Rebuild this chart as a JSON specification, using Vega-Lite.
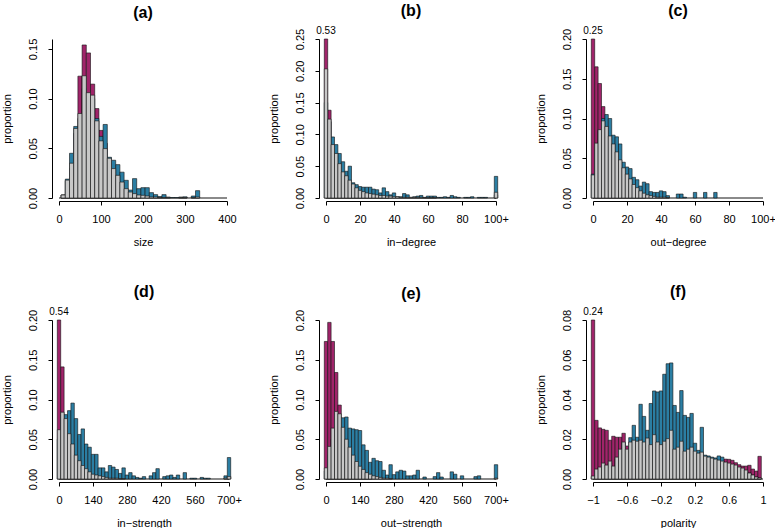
{
"$schema": "https://vega.github.io/schema/vega-lite/v6.json",
"padding": {"left": 1, "top": 3, "right": 0, "bottom": 0},
"background": "white",
"config": {
 "view": {"stroke": null},
 "font": "Liberation Sans",
 "axis": {"domainColor": "#000", "tickColor": "#000", "labelColor": "#000", "titleColor": "#000", "labelFontSize": 11, "titleFontSize": 11, "titleFontWeight": "normal", "grid": false, "tickSize": 4, "domainWidth": 1, "tickWidth": 1, "labelFlush": false, "labelOverlap": false},
 "axisX": {"offset": 3, "labelPadding": 8, "titlePadding": 12},
 "axisY": {"offset": 7, "labelAngle": 270, "labelAlign": "center", "labelBaseline": "bottom", "labelPadding": 10, "titlePadding": 15},
 "title": {"fontSize": 16, "fontWeight": "bold", "offset": 7, "frame": "group", "anchor": "middle", "color": "#000"}
},
"datasets": {
 "a": [
  {"x":10,"m":0.003,"b":0.003,"g":0.003},{"x":20,"m":0.017,"b":0.019,"g":0.018},{"x":30,"m":0.03,"b":0.045,"g":0.035},{"x":40,"m":0.065,"b":0.072,"g":0.07},
  {"x":50,"m":0.1226,"b":0.08,"g":0.085},{"x":60,"m":0.154,"b":0.11,"g":0.123},{"x":70,"m":0.146,"b":0.1,"g":0.106},{"x":80,"m":0.1146,"b":0.1,"g":0.1035},
  {"x":90,"m":0.09,"b":0.08,"g":0.0776},{"x":100,"m":0.068,"b":0.062,"g":0.0575},{"x":110,"m":0.055,"b":0.074,"g":0.0497},{"x":120,"m":0.03,"b":0.041,"g":0.04},
  {"x":130,"m":0.02,"b":0.038,"g":0.0296},{"x":140,"m":0.012,"b":0.0336,"g":0.0228},{"x":150,"m":0.008,"b":0.026,"g":0.016},{"x":160,"m":0.004,"b":0.0178,"g":0.0094},
  {"x":170,"m":0.002,"b":0.008,"g":0.006},{"x":180,"m":0.001,"b":0.0195,"g":0.0044},{"x":190,"m":0.001,"b":0.0094,"g":0.003},{"x":200,"m":0,"b":0.0104,"g":0.0027},
  {"x":210,"m":0,"b":0.0104,"g":0.002},{"x":220,"m":0,"b":0.0054,"g":0.001},{"x":230,"m":0,"b":0.0034,"g":0.001},{"x":240,"m":0,"b":0.0015,"g":0.0005},
  {"x":250,"m":0,"b":0.0034,"g":0.0005},{"x":260,"m":0,"b":0.001,"g":0.0005},{"x":270,"m":0,"b":0.0005,"g":0},{"x":280,"m":0,"b":0.0005,"g":0},
  {"x":290,"m":0,"b":0.001,"g":0.0005},{"x":300,"m":0,"b":0.0012,"g":0.0005},{"x":310,"m":0,"b":0,"g":0},{"x":320,"m":0,"b":0.002,"g":0.0005},
  {"x":330,"m":0,"b":0.0074,"g":0.001}
 ],
 "b": [
  {"x":0,"m":0.53,"b":0.15,"g":0.203},{"x":2,"m":0.138,"b":0.12,"g":0.124},{"x":4,"m":0.07,"b":0.096,"g":0.084},{"x":6,"m":0.05,"b":0.084,"g":0.07},
  {"x":8,"m":0.035,"b":0.07,"g":0.054},{"x":10,"m":0.025,"b":0.057,"g":0.041},{"x":12,"m":0.02,"b":0.042,"g":0.035},{"x":14,"m":0.015,"b":0.05,"g":0.028},
  {"x":16,"m":0.012,"b":0.024,"g":0.022},{"x":18,"m":0.009,"b":0.021,"g":0.016},{"x":20,"m":0.007,"b":0.018,"g":0.012},{"x":22,"m":0.005,"b":0.017,"g":0.01},
  {"x":24,"m":0.004,"b":0.017,"g":0.008},{"x":26,"m":0.003,"b":0.017,"g":0.007},{"x":28,"m":0.003,"b":0.014,"g":0.006},{"x":30,"m":0.002,"b":0.013,"g":0.005},
  {"x":32,"m":0.002,"b":0.008,"g":0.004},{"x":34,"m":0.001,"b":0.016,"g":0.004},{"x":36,"m":0.001,"b":0.01,"g":0.003},{"x":38,"m":0,"b":0.005,"g":0.003},
  {"x":40,"m":0,"b":0.008,"g":0.002},{"x":42,"m":0,"b":0.002,"g":0.002},{"x":44,"m":0,"b":0.002,"g":0.001},{"x":46,"m":0,"b":0.007,"g":0.001},
  {"x":48,"m":0,"b":0.005,"g":0.001},{"x":50,"m":0,"b":0.001,"g":0.001},{"x":52,"m":0,"b":0.002,"g":0.001},{"x":54,"m":0,"b":0.003,"g":0.001},
  {"x":56,"m":0,"b":0.004,"g":0.001},{"x":58,"m":0,"b":0.001,"g":0.0005},{"x":60,"m":0,"b":0.003,"g":0.0005},{"x":62,"m":0,"b":0.003,"g":0.0005},
  {"x":64,"m":0,"b":0.003,"g":0.0005},{"x":66,"m":0,"b":0.001,"g":0},{"x":68,"m":0,"b":0.001,"g":0},{"x":70,"m":0,"b":0.002,"g":0},
  {"x":72,"m":0,"b":0.001,"g":0},{"x":74,"m":0,"b":0.004,"g":0},{"x":76,"m":0,"b":0.002,"g":0},{"x":78,"m":0,"b":0.001,"g":0},
  {"x":80,"m":0,"b":0,"g":0},{"x":82,"m":0,"b":0.001,"g":0},{"x":84,"m":0,"b":0.001,"g":0},{"x":86,"m":0,"b":0.002,"g":0},
  {"x":88,"m":0,"b":0,"g":0},{"x":90,"m":0,"b":0.001,"g":0},{"x":92,"m":0,"b":0.001,"g":0},{"x":94,"m":0,"b":0.001,"g":0},
  {"x":96,"m":0,"b":0,"g":0},{"x":98,"m":0,"b":0,"g":0},{"x":100,"m":0.005,"b":0.034,"g":0.009}
 ],
 "c": [
  {"x":0,"m":0.25,"b":0.03,"g":0.029},{"x":2,"m":0.165,"b":0.06,"g":0.069},{"x":4,"m":0.144,"b":0.085,"g":0.086},{"x":6,"m":0.115,"b":0.1,"g":0.097},
  {"x":8,"m":0.09,"b":0.105,"g":0.09},{"x":10,"m":0.07,"b":0.1,"g":0.078},{"x":12,"m":0.05,"b":0.079,"g":0.068},{"x":14,"m":0.035,"b":0.077,"g":0.058},
  {"x":16,"m":0.025,"b":0.068,"g":0.048},{"x":18,"m":0.018,"b":0.045,"g":0.038},{"x":20,"m":0.012,"b":0.039,"g":0.03},{"x":22,"m":0.008,"b":0.037,"g":0.024},
  {"x":24,"m":0.005,"b":0.026,"g":0.017},{"x":26,"m":0.004,"b":0.023,"g":0.013},{"x":28,"m":0.002,"b":0.015,"g":0.009},{"x":30,"m":0.001,"b":0.02,"g":0.006},
  {"x":32,"m":0,"b":0.018,"g":0.004},{"x":34,"m":0,"b":0.008,"g":0.003},{"x":36,"m":0,"b":0.007,"g":0.002},{"x":38,"m":0,"b":0.007,"g":0.001},
  {"x":40,"m":0,"b":0.009,"g":0.001},{"x":42,"m":0,"b":0.008,"g":0.001},{"x":44,"m":0,"b":0.003,"g":0.0005},{"x":46,"m":0,"b":0,"g":0},
  {"x":48,"m":0,"b":0,"g":0},{"x":50,"m":0,"b":0.005,"g":0},{"x":52,"m":0,"b":0.005,"g":0},{"x":54,"m":0,"b":0.001,"g":0},
  {"x":56,"m":0,"b":0,"g":0},{"x":58,"m":0,"b":0,"g":0},{"x":60,"m":0,"b":0.007,"g":0},{"x":62,"m":0,"b":0,"g":0},
  {"x":64,"m":0,"b":0,"g":0},{"x":66,"m":0,"b":0.007,"g":0},{"x":68,"m":0,"b":0,"g":0},{"x":70,"m":0,"b":0,"g":0},
  {"x":72,"m":0,"b":0.007,"g":0}
 ],
 "d": [
  {"x":0,"m":0.54,"b":0.05,"g":0.062},{"x":14,"m":0.141,"b":0.08,"g":0.084},{"x":28,"m":0.07,"b":0.081,"g":0.076},{"x":42,"m":0.05,"b":0.086,"g":0.057},
  {"x":56,"m":0.035,"b":0.0955,"g":0.044},{"x":70,"m":0.025,"b":0.076,"g":0.03},{"x":84,"m":0.015,"b":0.056,"g":0.023},{"x":98,"m":0.01,"b":0.063,"g":0.017},
  {"x":112,"m":0.007,"b":0.044,"g":0.013},{"x":126,"m":0.005,"b":0.04,"g":0.009},{"x":140,"m":0.003,"b":0.031,"g":0.006},{"x":154,"m":0.002,"b":0.031,"g":0.005},
  {"x":168,"m":0,"b":0.014,"g":0.004},{"x":182,"m":0,"b":0.014,"g":0.003},{"x":196,"m":0,"b":0.009,"g":0.002},{"x":210,"m":0,"b":0.017,"g":0.001},
  {"x":224,"m":0,"b":0.015,"g":0.001},{"x":238,"m":0,"b":0.012,"g":0.001},{"x":252,"m":0,"b":0.007,"g":0.0005},{"x":266,"m":0,"b":0.014,"g":0.0005},
  {"x":280,"m":0,"b":0.005,"g":0},{"x":294,"m":0,"b":0.008,"g":0},{"x":308,"m":0,"b":0.004,"g":0},{"x":322,"m":0,"b":0.002,"g":0},
  {"x":336,"m":0,"b":0.001,"g":0},{"x":350,"m":0,"b":0.003,"g":0},{"x":364,"m":0,"b":0,"g":0},{"x":378,"m":0,"b":0.004,"g":0},
  {"x":392,"m":0,"b":0.008,"g":0},{"x":406,"m":0,"b":0.013,"g":0},{"x":420,"m":0,"b":0,"g":0},{"x":434,"m":0,"b":0.003,"g":0},
  {"x":448,"m":0,"b":0.004,"g":0},{"x":462,"m":0,"b":0.005,"g":0},{"x":476,"m":0,"b":0.002,"g":0},{"x":490,"m":0,"b":0.005,"g":0},
  {"x":504,"m":0,"b":0,"g":0},{"x":518,"m":0,"b":0.008,"g":0},{"x":532,"m":0,"b":0,"g":0},{"x":546,"m":0,"b":0.001,"g":0},
  {"x":560,"m":0,"b":0.001,"g":0},{"x":574,"m":0,"b":0,"g":0},{"x":588,"m":0,"b":0.002,"g":0},{"x":602,"m":0,"b":0.001,"g":0},
  {"x":616,"m":0,"b":0.001,"g":0},{"x":630,"m":0,"b":0,"g":0},{"x":644,"m":0,"b":0,"g":0},{"x":658,"m":0,"b":0,"g":0},
  {"x":672,"m":0,"b":0,"g":0},{"x":686,"m":0,"b":0.004,"g":0.001},{"x":700,"m":0.003,"b":0.027,"g":0.003}
 ],
 "e": [
  {"x":0,"m":0.173,"b":0.01,"g":0.014},{"x":14,"m":0.197,"b":0.03,"g":0.041},{"x":28,"m":0.173,"b":0.05,"g":0.064},{"x":42,"m":0.134,"b":0.075,"g":0.085},
  {"x":56,"m":0.093,"b":0.078,"g":0.082},{"x":70,"m":0.05,"b":0.077,"g":0.065},{"x":84,"m":0.035,"b":0.078,"g":0.05},{"x":98,"m":0.025,"b":0.064,"g":0.04},
  {"x":112,"m":0.018,"b":0.063,"g":0.03},{"x":126,"m":0.012,"b":0.062,"g":0.022},{"x":140,"m":0.008,"b":0.061,"g":0.016},{"x":154,"m":0.005,"b":0.043,"g":0.012},
  {"x":168,"m":0.003,"b":0.036,"g":0.008},{"x":182,"m":0.002,"b":0.021,"g":0.006},{"x":196,"m":0,"b":0.026,"g":0.004},{"x":210,"m":0,"b":0.023,"g":0.003},
  {"x":224,"m":0,"b":0.022,"g":0.002},{"x":238,"m":0,"b":0.011,"g":0.001},{"x":252,"m":0,"b":0.005,"g":0.001},{"x":266,"m":0,"b":0.018,"g":0.0005},
  {"x":280,"m":0,"b":0.0055,"g":0},{"x":294,"m":0,"b":0.009,"g":0},{"x":308,"m":0,"b":0.011,"g":0},{"x":322,"m":0,"b":0.01,"g":0},
  {"x":336,"m":0,"b":0.004,"g":0},{"x":350,"m":0,"b":0.004,"g":0},{"x":364,"m":0,"b":0.005,"g":0},{"x":378,"m":0,"b":0.011,"g":0},
  {"x":392,"m":0,"b":0,"g":0},{"x":406,"m":0,"b":0.0025,"g":0},{"x":420,"m":0,"b":0,"g":0},{"x":434,"m":0,"b":0,"g":0},
  {"x":448,"m":0,"b":0.003,"g":0},{"x":462,"m":0,"b":0.008,"g":0},{"x":476,"m":0,"b":0.0025,"g":0},{"x":490,"m":0,"b":0,"g":0},
  {"x":504,"m":0,"b":0,"g":0},{"x":518,"m":0,"b":0.009,"g":0},{"x":532,"m":0,"b":0.006,"g":0},{"x":546,"m":0,"b":0,"g":0},
  {"x":560,"m":0,"b":0.004,"g":0},{"x":574,"m":0,"b":0,"g":0},{"x":588,"m":0,"b":0,"g":0},{"x":602,"m":0,"b":0,"g":0},
  {"x":616,"m":0,"b":0.003,"g":0},{"x":630,"m":0,"b":0.004,"g":0},{"x":644,"m":0,"b":0,"g":0},{"x":658,"m":0,"b":0,"g":0},
  {"x":672,"m":0,"b":0,"g":0},{"x":686,"m":0,"b":0,"g":0},{"x":700,"m":0,"b":0.018,"g":0.001}
 ],
 "f": [
  {"x":-1,"m":0.24,"b":0.001,"g":0.0015},{"x":-0.96,"m":0.0295,"b":0.004,"g":0.005},{"x":-0.92,"m":0.0257,"b":0.005,"g":0.006},{"x":-0.88,"m":0.025,"b":0.007,"g":0.008},
  {"x":-0.84,"m":0.0245,"b":0.006,"g":0.007},{"x":-0.8,"m":0.0195,"b":0.008,"g":0.009},{"x":-0.76,"m":0.0215,"b":0.006,"g":0.0065},{"x":-0.72,"m":0.021,"b":0.01,"g":0.011},
  {"x":-0.68,"m":0.021,"b":0.014,"g":0.015},{"x":-0.64,"m":0.023,"b":0.018,"g":0.0186},{"x":-0.6,"m":0.0166,"b":0.014,"g":0.015},{"x":-0.56,"m":0.016,"b":0.0208,"g":0.0186},
  {"x":-0.52,"m":0.016,"b":0.027,"g":0.0195},{"x":-0.48,"m":0.016,"b":0.021,"g":0.019},{"x":-0.44,"m":0.016,"b":0.0376,"g":0.0195},{"x":-0.4,"m":0.016,"b":0.0315,"g":0.0186},
  {"x":-0.36,"m":0.016,"b":0.0245,"g":0.0206},{"x":-0.32,"m":0.015,"b":0.038,"g":0.0173},{"x":-0.28,"m":0.016,"b":0.0443,"g":0.0223},{"x":-0.24,"m":0.015,"b":0.0438,"g":0.0186},
  {"x":-0.2,"m":0.015,"b":0.0443,"g":0.0173},{"x":-0.16,"m":0.015,"b":0.0527,"g":0.019},{"x":-0.12,"m":0.015,"b":0.058,"g":0.0203},{"x":-0.08,"m":0.016,"b":0.0584,"g":0.0245},
  {"x":-0.04,"m":0.012,"b":0.037,"g":0.015},{"x":0,"m":0.012,"b":0.0335,"g":0.016},{"x":0.04,"m":0.012,"b":0.0445,"g":0.019},{"x":0.08,"m":0.011,"b":0.032,"g":0.014},
  {"x":0.12,"m":0.011,"b":0.031,"g":0.015},{"x":0.16,"m":0.011,"b":0.033,"g":0.016},{"x":0.2,"m":0.01,"b":0.018,"g":0.014},{"x":0.24,"m":0.01,"b":0.0144,"g":0.013},
  {"x":0.28,"m":0.01,"b":0.026,"g":0.0135},{"x":0.32,"m":0.009,"b":0.012,"g":0.0115},{"x":0.36,"m":0.009,"b":0.0116,"g":0.011},{"x":0.4,"m":0.009,"b":0.011,"g":0.0105},
  {"x":0.44,"m":0.009,"b":0.0106,"g":0.01},{"x":0.48,"m":0.009,"b":0.0116,"g":0.0095},{"x":0.52,"m":0.009,"b":0.011,"g":0.009},{"x":0.56,"m":0.01,"b":0.008,"g":0.0085},
  {"x":0.6,"m":0.0099,"b":0.007,"g":0.008},{"x":0.64,"m":0.0094,"b":0.007,"g":0.0075},{"x":0.68,"m":0.0082,"b":0.006,"g":0.007},{"x":0.72,"m":0.0072,"b":0.005,"g":0.006},
  {"x":0.76,"m":0.0065,"b":0.005,"g":0.0055},{"x":0.8,"m":0.0065,"b":0.004,"g":0.0045},{"x":0.84,"m":0.0069,"b":0.003,"g":0.003},{"x":0.88,"m":0.005,"b":0.002,"g":0.002},
  {"x":0.92,"m":0.004,"b":0.001,"g":0.001},{"x":0.96,"m":0.0114,"b":0.0005,"g":0.0005}
 ]
},
"columns": 3,
"bounds": "flush",
"spacing": {"column": 97, "row": 122},
"concat": [
 {"title": {"text": "(a)", "offset": 17}, "width": 168, "height": 159, "data": {"name": "a"},
  "layer": [
   {"mark": {"type": "rule", "color": "#8a8a8a", "strokeWidth": 1.5}, "encoding": {"y": {"datum": 0, "type": "quantitative"}}},
   {"transform": [{"filter": "datum.m > 0"}], "mark": {"type": "bar", "orient": "vertical", "size": 4.2, "fill": "#a0246a", "stroke": "#111", "strokeWidth": 0.6},
    "encoding": {"x": {"field": "x", "type": "quantitative", "title": "size", "scale": {"domain": [0, 400], "nice": false, "zero": false, "padding": 0}, "axis": {"values": [0, 100, 200, 300, 400], "tickCount": 20, "labelOverlap": false}},
                 "y": {"field": "m", "type": "quantitative", "title": "proportion", "scale": {"domain": [0, 0.16], "nice": false, "clamp": true}, "axis": {"values": [0, 0.05, 0.1, 0.15], "tickCount": 20, "format": ".2f", "labelOverlap": false}}}},
   {"transform": [{"filter": "datum.b > 0"}], "mark": {"type": "bar", "orient": "vertical", "size": 4.2, "fill": "#2b7ea3", "stroke": "#111", "strokeWidth": 0.6},
    "encoding": {"x": {"field": "x", "type": "quantitative", "title": "size"}, "y": {"field": "b", "type": "quantitative", "title": "proportion"}}},
   {"transform": [{"filter": "datum.g > 0"}], "mark": {"type": "bar", "orient": "vertical", "size": 4.2, "fill": "#c8c8c8", "stroke": "#111", "strokeWidth": 0.6},
    "encoding": {"x": {"field": "x", "type": "quantitative", "title": "size"}, "y": {"field": "g", "type": "quantitative", "title": "proportion"}}}
  ]},
 {"title": "(b)", "width": 170, "height": 159, "data": {"name": "b"},
  "layer": [
   {"mark": {"type": "rule", "color": "#8a8a8a", "strokeWidth": 1.5}, "encoding": {"y": {"datum": 0, "type": "quantitative"}}},
   {"transform": [{"filter": "datum.m > 0"}], "mark": {"type": "bar", "orient": "vertical", "size": 3.4, "fill": "#a0246a", "stroke": "#111", "strokeWidth": 0.6},
    "encoding": {"x": {"field": "x", "type": "quantitative", "title": "in\u2212degree", "scale": {"domain": [0, 100], "nice": false, "zero": false, "padding": 0}, "axis": {"values": [0, 20, 40, 60, 80, 100], "tickCount": 20, "labelOverlap": false, "labelExpr": "datum.value == 100 ? '100+' : datum.label"}},
                 "y": {"field": "m", "type": "quantitative", "title": "proportion", "scale": {"domain": [0, 0.25], "nice": false, "clamp": true}, "axis": {"values": [0, 0.05, 0.1, 0.15, 0.2, 0.25], "tickCount": 20, "format": ".2f", "labelOverlap": false}}}},
   {"transform": [{"filter": "datum.b > 0"}], "mark": {"type": "bar", "orient": "vertical", "size": 3.4, "fill": "#2b7ea3", "stroke": "#111", "strokeWidth": 0.6},
    "encoding": {"x": {"field": "x", "type": "quantitative", "title": "in\u2212degree"}, "y": {"field": "b", "type": "quantitative", "title": "proportion"}}},
   {"transform": [{"filter": "datum.g > 0"}], "mark": {"type": "bar", "orient": "vertical", "size": 3.4, "fill": "#c8c8c8", "stroke": "#111", "strokeWidth": 0.6},
    "encoding": {"x": {"field": "x", "type": "quantitative", "title": "in\u2212degree"}, "y": {"field": "g", "type": "quantitative", "title": "proportion"}}},
   {"transform": [{"filter": "datum.m > 0.25"}], "mark": {"type": "text", "baseline": "bottom", "dy": -3, "fontSize": 10, "color": "#000"},
    "encoding": {"x": {"field": "x", "type": "quantitative"}, "y": {"datum": 0.25, "type": "quantitative"}, "text": {"field": "m", "format": ".2f"}}}
  ]},
 {"title": "(c)", "width": 170, "height": 159, "data": {"name": "c"},
  "layer": [
   {"mark": {"type": "rule", "color": "#8a8a8a", "strokeWidth": 1.5}, "encoding": {"y": {"datum": 0, "type": "quantitative"}}},
   {"transform": [{"filter": "datum.m > 0"}], "mark": {"type": "bar", "orient": "vertical", "size": 3.4, "fill": "#a0246a", "stroke": "#111", "strokeWidth": 0.6},
    "encoding": {"x": {"field": "x", "type": "quantitative", "title": "out\u2212degree", "scale": {"domain": [0, 100], "nice": false, "zero": false, "padding": 0}, "axis": {"values": [0, 20, 40, 60, 80, 100], "tickCount": 20, "labelOverlap": false, "labelExpr": "datum.value == 100 ? '100+' : datum.label"}},
                 "y": {"field": "m", "type": "quantitative", "title": "proportion", "scale": {"domain": [0, 0.2], "nice": false, "clamp": true}, "axis": {"values": [0, 0.05, 0.1, 0.15, 0.2], "tickCount": 20, "format": ".2f", "labelOverlap": false}}}},
   {"transform": [{"filter": "datum.b > 0"}], "mark": {"type": "bar", "orient": "vertical", "size": 3.4, "fill": "#2b7ea3", "stroke": "#111", "strokeWidth": 0.6},
    "encoding": {"x": {"field": "x", "type": "quantitative", "title": "out\u2212degree"}, "y": {"field": "b", "type": "quantitative", "title": "proportion"}}},
   {"transform": [{"filter": "datum.g > 0"}], "mark": {"type": "bar", "orient": "vertical", "size": 3.4, "fill": "#c8c8c8", "stroke": "#111", "strokeWidth": 0.6},
    "encoding": {"x": {"field": "x", "type": "quantitative", "title": "out\u2212degree"}, "y": {"field": "g", "type": "quantitative", "title": "proportion"}}},
   {"transform": [{"filter": "datum.m > 0.2"}], "mark": {"type": "text", "baseline": "bottom", "dy": -3, "fontSize": 10, "color": "#000"},
    "encoding": {"x": {"field": "x", "type": "quantitative"}, "y": {"datum": 0.2, "type": "quantitative"}, "text": {"field": "m", "format": ".2f"}}}
  ]},
 {"title": "(d)", "width": 170, "height": 159, "data": {"name": "d"},
  "layer": [
   {"mark": {"type": "rule", "color": "#8a8a8a", "strokeWidth": 1.5}, "encoding": {"y": {"datum": 0, "type": "quantitative"}}},
   {"transform": [{"filter": "datum.m > 0"}], "mark": {"type": "bar", "orient": "vertical", "size": 3.4, "fill": "#a0246a", "stroke": "#111", "strokeWidth": 0.6},
    "encoding": {"x": {"field": "x", "type": "quantitative", "title": "in\u2212strength", "scale": {"domain": [0, 700], "nice": false, "zero": false, "padding": 0}, "axis": {"values": [0, 140, 280, 420, 560, 700], "tickCount": 20, "labelOverlap": false, "labelExpr": "datum.value == 700 ? '700+' : datum.label"}},
                 "y": {"field": "m", "type": "quantitative", "title": "proportion", "scale": {"domain": [0, 0.2], "nice": false, "clamp": true}, "axis": {"values": [0, 0.05, 0.1, 0.15, 0.2], "tickCount": 20, "format": ".2f", "labelOverlap": false}}}},
   {"transform": [{"filter": "datum.b > 0"}], "mark": {"type": "bar", "orient": "vertical", "size": 3.4, "fill": "#2b7ea3", "stroke": "#111", "strokeWidth": 0.6},
    "encoding": {"x": {"field": "x", "type": "quantitative", "title": "in\u2212strength"}, "y": {"field": "b", "type": "quantitative", "title": "proportion"}}},
   {"transform": [{"filter": "datum.g > 0"}], "mark": {"type": "bar", "orient": "vertical", "size": 3.4, "fill": "#c8c8c8", "stroke": "#111", "strokeWidth": 0.6},
    "encoding": {"x": {"field": "x", "type": "quantitative", "title": "in\u2212strength"}, "y": {"field": "g", "type": "quantitative", "title": "proportion"}}},
   {"transform": [{"filter": "datum.m > 0.2"}], "mark": {"type": "text", "baseline": "bottom", "dy": -3, "fontSize": 10, "color": "#000"},
    "encoding": {"x": {"field": "x", "type": "quantitative"}, "y": {"datum": 0.2, "type": "quantitative"}, "text": {"field": "m", "format": ".2f"}}}
  ]},
 {"title": "(e)", "width": 170, "height": 159, "data": {"name": "e"},
  "layer": [
   {"mark": {"type": "rule", "color": "#8a8a8a", "strokeWidth": 1.5}, "encoding": {"y": {"datum": 0, "type": "quantitative"}}},
   {"transform": [{"filter": "datum.m > 0"}], "mark": {"type": "bar", "orient": "vertical", "size": 3.4, "fill": "#a0246a", "stroke": "#111", "strokeWidth": 0.6},
    "encoding": {"x": {"field": "x", "type": "quantitative", "title": "out\u2212strength", "scale": {"domain": [0, 700], "nice": false, "zero": false, "padding": 0}, "axis": {"values": [0, 140, 280, 420, 560, 700], "tickCount": 20, "labelOverlap": false, "labelExpr": "datum.value == 700 ? '700+' : datum.label"}},
                 "y": {"field": "m", "type": "quantitative", "title": "proportion", "scale": {"domain": [0, 0.2], "nice": false, "clamp": true}, "axis": {"values": [0, 0.05, 0.1, 0.15, 0.2], "tickCount": 20, "format": ".2f", "labelOverlap": false}}}},
   {"transform": [{"filter": "datum.b > 0"}], "mark": {"type": "bar", "orient": "vertical", "size": 3.4, "fill": "#2b7ea3", "stroke": "#111", "strokeWidth": 0.6},
    "encoding": {"x": {"field": "x", "type": "quantitative", "title": "out\u2212strength"}, "y": {"field": "b", "type": "quantitative", "title": "proportion"}}},
   {"transform": [{"filter": "datum.g > 0"}], "mark": {"type": "bar", "orient": "vertical", "size": 3.4, "fill": "#c8c8c8", "stroke": "#111", "strokeWidth": 0.6},
    "encoding": {"x": {"field": "x", "type": "quantitative", "title": "out\u2212strength"}, "y": {"field": "g", "type": "quantitative", "title": "proportion"}}}
  ]},
 {"title": "(f)", "width": 170, "height": 159, "data": {"name": "f"},
  "layer": [
   {"mark": {"type": "rule", "color": "#8a8a8a", "strokeWidth": 1.5}, "encoding": {"y": {"datum": 0, "type": "quantitative"}}},
   {"transform": [{"filter": "datum.m > 0"}], "mark": {"type": "bar", "orient": "vertical", "size": 3.4, "fill": "#a0246a", "stroke": "#111", "strokeWidth": 0.6},
    "encoding": {"x": {"field": "x", "type": "quantitative", "title": "polarity", "scale": {"domain": [-1, 1], "nice": false, "zero": false, "padding": 0}, "axis": {"values": [-1, -0.6, -0.2, 0.2, 0.6, 1], "tickCount": 20, "format": "~g", "labelOverlap": false}},
                 "y": {"field": "m", "type": "quantitative", "title": "proportion", "scale": {"domain": [0, 0.08], "nice": false, "clamp": true}, "axis": {"values": [0, 0.02, 0.04, 0.06, 0.08], "tickCount": 20, "format": ".2f", "labelOverlap": false}}}},
   {"transform": [{"filter": "datum.b > 0"}], "mark": {"type": "bar", "orient": "vertical", "size": 3.4, "fill": "#2b7ea3", "stroke": "#111", "strokeWidth": 0.6},
    "encoding": {"x": {"field": "x", "type": "quantitative", "title": "polarity"}, "y": {"field": "b", "type": "quantitative", "title": "proportion"}}},
   {"transform": [{"filter": "datum.g > 0"}], "mark": {"type": "bar", "orient": "vertical", "size": 3.4, "fill": "#c8c8c8", "stroke": "#111", "strokeWidth": 0.6},
    "encoding": {"x": {"field": "x", "type": "quantitative", "title": "polarity"}, "y": {"field": "g", "type": "quantitative", "title": "proportion"}}},
   {"transform": [{"filter": "datum.m > 0.08"}], "mark": {"type": "text", "baseline": "bottom", "dy": -3, "fontSize": 10, "color": "#000"},
    "encoding": {"x": {"field": "x", "type": "quantitative"}, "y": {"datum": 0.08, "type": "quantitative"}, "text": {"field": "m", "format": ".2f"}}}
  ]}
]
}
